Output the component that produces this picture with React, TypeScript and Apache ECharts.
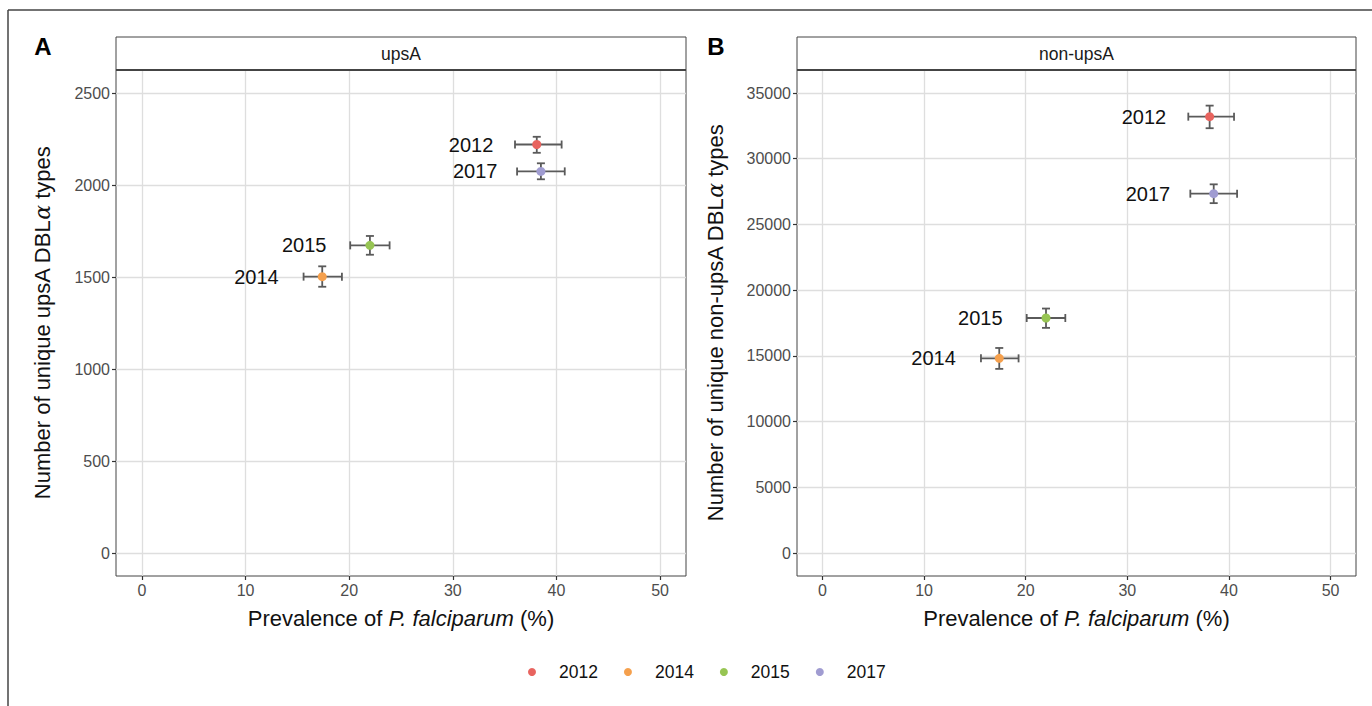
import React, { useEffect, useRef } from "react";
import * as echarts from "echarts";

// Survey years and their colours
const years = ["2012", "2014", "2015", "2017"];
const yearColors = ["#E8645F", "#F5A04D", "#97C553", "#A09CD1"];

// Prevalence of P. falciparum (%) with confidence limits
const prevalence = [38.1, 17.4, 22.0, 38.5];
const prevLow = [36.0, 15.6, 20.1, 36.2];
const prevHigh = [40.5, 19.3, 23.9, 40.8];

// Number of unique upsA DBLα types
const upsA = [2220, 1502, 1672, 2074];
const upsALow = [2175, 1447, 1621, 2031];
const upsAHigh = [2262, 1558, 1723, 2118];

// Number of unique non-upsA DBLα types
const nonUpsA = [33200, 14810, 17880, 27340];
const nonUpsALow = [32320, 14010, 17130, 26620];
const nonUpsAHigh = [34040, 15600, 18600, 28050];

// Tick values
const xTicks = [0, 10, 20, 30, 40, 50];
const upsATicks = [0, 500, 1000, 1500, 2000, 2500];
const nonUpsATicks = [0, 5000, 10000, 15000, 20000, 25000, 30000, 35000];

const FONT = "Liberation Sans, Arial, Helvetica, sans-serif";

const errorBarSeries = (gridIndex: number, ys: number[], lo: number[], hi: number[]) => ({
  type: "custom",
  xAxisIndex: gridIndex,
  yAxisIndex: gridIndex,
  z: 2,
  silent: true,
  data: years.map((_, i) => [prevalence[i], ys[i], prevLow[i], prevHigh[i], lo[i], hi[i]]),
  encode: { x: 0, y: 1 },
  renderItem: (_params: any, api: any) => {
    const x = api.value(0);
    const y = api.value(1);
    const pl = api.coord([api.value(2), y]);
    const ph = api.coord([api.value(3), y]);
    const vl = api.coord([x, api.value(4)]);
    const vh = api.coord([x, api.value(5)]);
    const cap = 4;
    const style = { stroke: "#5A5A5A", lineWidth: 1.8 };
    const seg = (x1: number, y1: number, x2: number, y2: number) => ({
      type: "line",
      shape: { x1, y1, x2, y2 },
      style,
    });
    return {
      type: "group",
      children: [
        seg(pl[0], pl[1], ph[0], ph[1]),
        seg(pl[0], pl[1] - cap, pl[0], pl[1] + cap),
        seg(ph[0], ph[1] - cap, ph[0], ph[1] + cap),
        seg(vl[0], vl[1], vh[0], vh[1]),
        seg(vl[0] - cap, vl[1], vl[0] + cap, vl[1]),
        seg(vh[0] - cap, vh[1], vh[0] + cap, vh[1]),
      ],
    };
  },
});

const pointSeries = (gridIndex: number, ys: number[]) =>
  years.map((yr, i) => ({
    type: "scatter",
    name: yr,
    xAxisIndex: gridIndex,
    yAxisIndex: gridIndex,
    z: 3,
    symbol: "circle",
    symbolSize: 9,
    itemStyle: { color: yearColors[i], opacity: 1 },
    label: {
      show: true,
      position: "left",
      distance: 39,
      formatter: yr,
      fontSize: 20,
      fontFamily: FONT,
      color: "#111",
    },
    data: [[prevalence[i], ys[i]]],
  }));

const xAxisOf = (gridIndex: number) => ({
  type: "value",
  gridIndex,
  min: -2.5,
  max: 52.5,
  axisLine: { show: false, onZero: false },
  axisTick: { show: true, length: 4, customValues: xTicks, lineStyle: { color: "#333", width: 1.2 } },
  axisLabel: {
    customValues: xTicks,
    formatter: (v: number) => String(v),
    fontSize: 16,
    color: "#4D4D4D",
    fontFamily: FONT,
    margin: 6,
  },
  splitLine: { show: true, lineStyle: { color: "#DEDEDE", width: 1.3 } },
  name: "Prevalence of {i|P. falciparum} (%)",
  nameLocation: "middle",
  nameGap: 31,
  nameTextStyle: {
    fontSize: 22,
    color: "#111",
    fontFamily: FONT,
    rich: { i: { fontStyle: "italic", fontSize: 22, color: "#111", fontFamily: FONT } },
  },
});

const yAxisOf = (gridIndex: number, min: number, max: number, ticks: number[], name: string, gap: number) => ({
  type: "value",
  gridIndex,
  min,
  max,
  axisLine: { show: false, onZero: false },
  axisTick: { show: true, length: 4, customValues: ticks, lineStyle: { color: "#333", width: 1.2 } },
  axisLabel: {
    customValues: ticks,
    formatter: (v: number) => String(v),
    fontSize: 16,
    color: "#4D4D4D",
    fontFamily: FONT,
    margin: 6,
  },
  splitLine: { show: true, lineStyle: { color: "#DEDEDE", width: 1.3 } },
  name,
  nameLocation: "middle",
  nameGap: gap,
  nameTextStyle: {
    fontSize: 22,
    color: "#111",
    fontFamily: FONT,
    rich: { a: { fontStyle: "italic", fontSize: 22, color: "#111", fontFamily: "DejaVu Serif, serif" } },
  },
});

const strip = (x: number, w: number, text: string) => [
  {
    type: "rect",
    shape: { x, y: 37, width: w, height: 33 },
    style: { fill: "#fff", stroke: "#444", lineWidth: 1 },
    z: 10,
  },
  {
    type: "line",
    shape: { x1: x, y1: 70, x2: x + w, y2: 70 },
    style: { stroke: "#444", lineWidth: 2 },
    z: 11,
  },
  {
    type: "text",
    x: x + w / 2,
    y: 54,
    style: { text, fontSize: 17.5, fill: "#1A1A1A", fontFamily: FONT, align: "center", verticalAlign: "middle" },
    z: 11,
  },
];

export default function App() {
  const ref = useRef<HTMLDivElement>(null);

  useEffect(() => {
    document.body.style.margin = "0";
    const chart = echarts.init(ref.current!, undefined, { renderer: "svg" });
    chart.setOption({
      animation: false,
      backgroundColor: "#fff",
      textStyle: { fontFamily: FONT },
      grid: [
        { left: 116, top: 70, width: 570, height: 506, show: true, borderColor: "#444", borderWidth: 1, backgroundColor: "transparent" },
        { left: 797, top: 70, width: 559, height: 506, show: true, borderColor: "#444", borderWidth: 1, backgroundColor: "transparent" },
      ],
      xAxis: [xAxisOf(0), xAxisOf(1)],
      yAxis: [
        yAxisOf(0, -125, 2625, upsATicks, "Number of unique upsA DBL{a|α} types", 63),
        yAxisOf(1, -1750, 36750, nonUpsATicks, "Number of unique non-upsA DBL{a|α} types", 71),
      ],
      legend: {
        data: years,
        left: 523,
        top: 658,
        icon: "circle",
        itemWidth: 8,
        itemHeight: 8,
        itemGap: 26,
        textStyle: { fontSize: 17.5, color: "#111", fontFamily: FONT, padding: [0, 0, 0, 18] },
        selectedMode: false,
      },
      graphic: [
        { type: "line", shape: { x1: 8, y1: 10, x2: 1372, y2: 10 }, style: { stroke: "#444", lineWidth: 1.5 } },
        { type: "line", shape: { x1: 8, y1: 10, x2: 8, y2: 706 }, style: { stroke: "#444", lineWidth: 1.5 } },
        {
          type: "text",
          x: 43,
          y: 46,
          style: { text: "A", fontSize: 24, fontWeight: "bold", fill: "#000", fontFamily: FONT, align: "center", verticalAlign: "middle" },
        },
        {
          type: "text",
          x: 716,
          y: 46,
          style: { text: "B", fontSize: 24, fontWeight: "bold", fill: "#000", fontFamily: FONT, align: "center", verticalAlign: "middle" },
        },
        ...strip(116, 570, "upsA"),
        ...strip(797, 559, "non-upsA"),
      ],
      series: [
        errorBarSeries(0, upsA, upsALow, upsAHigh),
        errorBarSeries(1, nonUpsA, nonUpsALow, nonUpsAHigh),
        ...pointSeries(0, upsA),
        ...pointSeries(1, nonUpsA),
      ],
    });
    return () => chart.dispose();
  }, []);

  return <div ref={ref} style={{ width: 1372, height: 706 }} />;
}
